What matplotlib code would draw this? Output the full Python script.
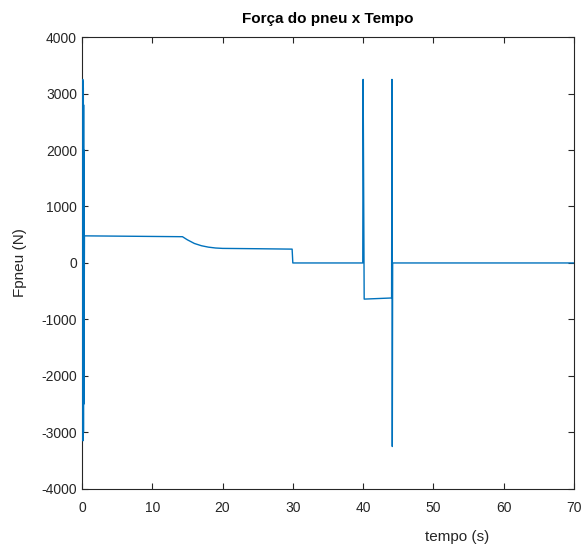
import matplotlib
matplotlib.use("Agg")
import matplotlib.pyplot as plt

# tire force vs time
tempo = [0.10, 0.12, 0.14, 0.16, 0.18, 0.20, 0.22, 0.24, 0.26, 0.28, 0.30,
         0.32, 0.34, 0.36,
         14.3, 15.0, 16.0, 17.0, 18.0, 19.0, 20.0, 25.0, 29.9, 30.0,
         39.95, 40.0, 40.15, 44.05, 44.1, 44.15, 44.2, 70.0]
fpneu = [0, 3250, -3150, 3200, -3100, 3100, -3000, 2800, -2500, 2000, -1500,
         900, -300, 480,
         465, 410, 345, 305, 280, 265, 258, 252, 245, 0,
         0, 3250, -640, -620, 3250, -3250, 0, 0]

plt.rcParams['font.family'] = ['Liberation Sans', 'DejaVu Sans']
plt.rcParams['axes.unicode_minus'] = False

fig = plt.figure(figsize=(5.81, 5.45), dpi=100)
ax = fig.add_axes([0.141, 0.103, 0.847, 0.829])
ax.plot(tempo, fpneu, color='#0072BD', lw=1.0, zorder=3)

ax.set_xlim(0, 70)
ax.set_ylim(-4000, 4000)
ax.set_xticks(range(0, 71, 10))
ax.set_yticks(range(-4000, 4001, 1000))
ax.tick_params(direction='in', length=4, labelsize=10, colors='#262626',
               top=True, right=True)
ax.tick_params(axis='x', pad=9)
for s in ax.spines.values():
    s.set_color('#262626')
    s.set_linewidth(0.8)

ax.set_title('Força do pneu x Tempo', fontsize=11, fontweight='bold', pad=10)
ax.set_xlabel('tempo (s)', fontsize=11, color='#262626')
ax.xaxis.set_label_coords(0.762, -0.09)
ax.set_ylabel('Fpneu (N)', fontsize=11, color='#262626')
ax.yaxis.set_label_coords(-0.112, 0.5)

fig.savefig('out.png', dpi=100)
